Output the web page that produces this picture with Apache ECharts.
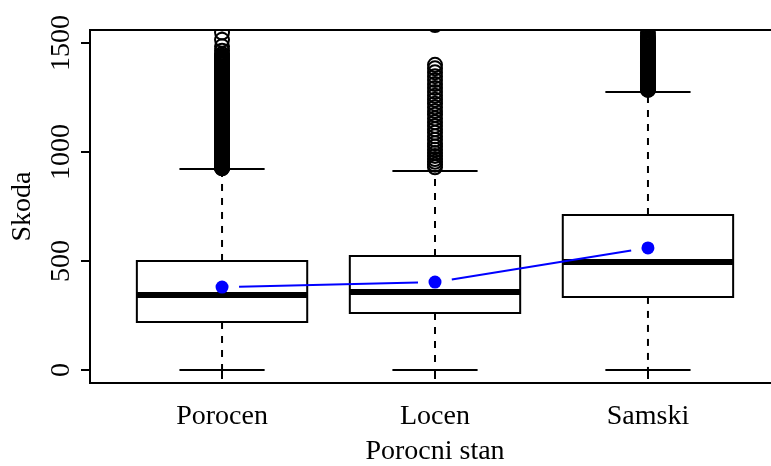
<!DOCTYPE html>
<html>
<head>
<meta charset="utf-8">
<script src="https://cdn.jsdelivr.net/npm/echarts@6/dist/echarts.min.js"></script>
<style>html,body{margin:0;padding:0;background:#fff}#c{width:771px;height:466px}</style>
</head>
<body>
<div id="c"></div>
<script>
// ---- data ----
var categories = ['Porocen', 'Locen', 'Samski'];
// [lower whisker, Q1, median, Q3, upper whisker]
var boxLow    = [0, 0, 0];
var boxQ1     = [220, 261, 335];
var boxMedian = [344, 358, 495];
var boxQ3     = [500, 523, 711];
var boxHigh   = [922, 913, 1275];
var means     = [380, 403, 560];
var outPorocen = [925,927,929,931,933,935,937,940,942,945,947,950,953,955,958,961,964,967,970,973,976,979,982,985,988,991,995,998,1001,1005,1008,1012,1015,1019,1022,1026,1030,1033,1037,1041,1045,1048,1052,1056,1060,1064,1068,1072,1076,1080,1084,1088,1092,1096,1100,1104,1108,1113,1117,1121,1125,1130,1134,1138,1143,1147,1152,1156,1161,1165,1170,1175,1179,1184,1189,1194,1199,1204,1209,1214,1219,1224,1229,1234,1240,1245,1250,1256,1262,1268,1274,1280,1286,1292,1298,1304,1310,1316,1322,1328,1334,1340,1346,1352,1358,1364,1370,1376,1382,1388,1394,1400,1406,1412,1418,1424,1430,1436,1442,1450,1465,1485,1515,1548,1590];
var outLocen = [930,942,955,968,982,996,1010,1025,1040,1056,1072,1088,1104,1120,1137,1154,1171,1188,1205,1222,1240,1258,1276,1294,1312,1330,1348,1366,1384,1400,1583];
var outSamski = [1285,1287,1290,1293,1296,1299,1302,1305,1308,1311,1314,1317,1320,1324,1328,1332,1336,1340,1344,1348,1352,1356,1360,1364,1368,1372,1376,1380,1384,1388,1392,1396,1400,1405,1410,1415,1420,1425,1430,1435,1440,1445,1450,1455,1460,1465,1470,1475,1480,1486,1492,1498,1504,1510,1516,1522,1530,1545,1575];
var yTicks = [0, 500, 1000, 1500];
var xTicks = [1, 2, 3];

// ---- build ----
var boxData = categories.map(function (c, i) {
  return [i + 1, boxLow[i], boxQ1[i], boxMedian[i], boxQ3[i], boxHigh[i]];
});
var outData = [];
[outPorocen, outLocen, outSamski].forEach(function (arr, i) {
  arr.forEach(function (v) { outData.push([i + 1, v]); });
});
var meanData = means.map(function (m, i) { return [i + 1, m]; });

var FONT = 'Liberation Serif';
var FS = 28;
var LW = 2;
var chart = echarts.init(document.getElementById('c'), null, {renderer: 'canvas'});

chart.setOption({
  animation: false,
  backgroundColor: '#fff',
  grid: {left: 90, top: 30, width: 690, height: 353, show: true, outerBoundsMode: 'none', containLabel: false,
         borderColor: '#000', borderWidth: LW, backgroundColor: 'transparent'},
  xAxis: {
    type: 'value', min: 0.38, max: 3.62,
    name: 'Porocni stan', nameLocation: 'middle', nameGap: 55,
    nameTextStyle: {fontFamily: FONT, fontSize: FS, color: '#000'},
    axisLine: {show: false},
    axisTick: {show: true, length: 9, lineStyle: {color: '#000', width: LW}, customValues: xTicks},
    axisLabel: {fontFamily: FONT, fontSize: FS, color: '#000', margin: 20, customValues: xTicks,
                formatter: function (v) { return categories[Math.round(v) - 1] || ''; }},
    splitLine: {show: false}
  },
  yAxis: {
    type: 'value', min: -60, max: 1560,
    name: 'Skoda', nameLocation: 'middle', nameGap: 53, nameRotate: 90,
    nameTextStyle: {fontFamily: FONT, fontSize: FS, color: '#000'},
    axisLine: {show: false},
    axisTick: {show: true, length: 9, lineStyle: {color: '#000', width: LW}, customValues: yTicks},
    axisLabel: {fontFamily: FONT, fontSize: FS, color: '#000', margin: 14, rotate: 90, customValues: yTicks,
                formatter: function (v) { return String(v); }},
    splitLine: {show: false}
  },
  series: [
    {
      type: 'custom', clip: true, z: 3,
      data: boxData,
      renderItem: function (params, api) {
        var x = api.value(0);
        var pLow = api.coord([x, api.value(1)]);
        var pQ1 = api.coord([x, api.value(2)]);
        var pMed = api.coord([x, api.value(3)]);
        var pQ3 = api.coord([x, api.value(4)]);
        var pHigh = api.coord([x, api.value(5)]);
        var bw = api.size([0.8, 0])[0];
        var cw = api.size([0.4, 0])[0];
        var cx = pMed[0];
        var ls = {stroke: '#000', lineWidth: LW, fill: null};
        var dash = {stroke: '#000', lineWidth: LW, lineDash: [7, 7], fill: null};
        return {
          type: 'group',
          children: [
            {type: 'line', shape: {x1: cx, y1: pQ3[1], x2: cx, y2: pHigh[1]}, style: dash},
            {type: 'line', shape: {x1: cx, y1: pQ1[1], x2: cx, y2: pLow[1]}, style: dash},
            {type: 'line', shape: {x1: cx - cw / 2, y1: pHigh[1], x2: cx + cw / 2, y2: pHigh[1]}, style: ls},
            {type: 'line', shape: {x1: cx - cw / 2, y1: pLow[1], x2: cx + cw / 2, y2: pLow[1]}, style: ls},
            {type: 'rect', shape: {x: cx - bw / 2, y: pQ3[1], width: bw, height: pQ1[1] - pQ3[1]},
             style: {stroke: '#000', lineWidth: LW, fill: '#fff'}},
            {type: 'line', shape: {x1: cx - bw / 2, y1: pMed[1], x2: cx + bw / 2, y2: pMed[1]},
             style: {stroke: '#000', lineWidth: 6, fill: null}}
          ]
        };
      }
    },
    {
      type: 'custom', clip: true, z: 4,
      data: outData,
      renderItem: function (params, api) {
        var p = api.coord([api.value(0), api.value(1)]);
        return {type: 'circle', shape: {cx: p[0], cy: p[1], r: 7},
                style: {stroke: '#000', lineWidth: 2, fill: null}};
      }
    },
    {
      type: 'custom', clip: true, z: 5,
      data: meanData,
      renderItem: function (params, api) {
        var i = params.dataIndex;
        var p = api.coord([api.value(0), api.value(1)]);
        var children = [{type: 'circle', shape: {cx: p[0], cy: p[1], r: 6.5}, style: {fill: '#0000ff'}}];
        if (i < meanData.length - 1) {
          var q = api.coord(meanData[i + 1]);
          var dx = q[0] - p[0], dy = q[1] - p[1];
          var L = Math.sqrt(dx * dx + dy * dy), g = 17;
          children.push({type: 'line', shape: {
            x1: p[0] + dx * g / L, y1: p[1] + dy * g / L,
            x2: q[0] - dx * g / L, y2: q[1] - dy * g / L},
            style: {stroke: '#0000ff', lineWidth: 2}});
        }
        return {type: 'group', children: children};
      }
    }
  ]
});
</script>
</body>
</html>
